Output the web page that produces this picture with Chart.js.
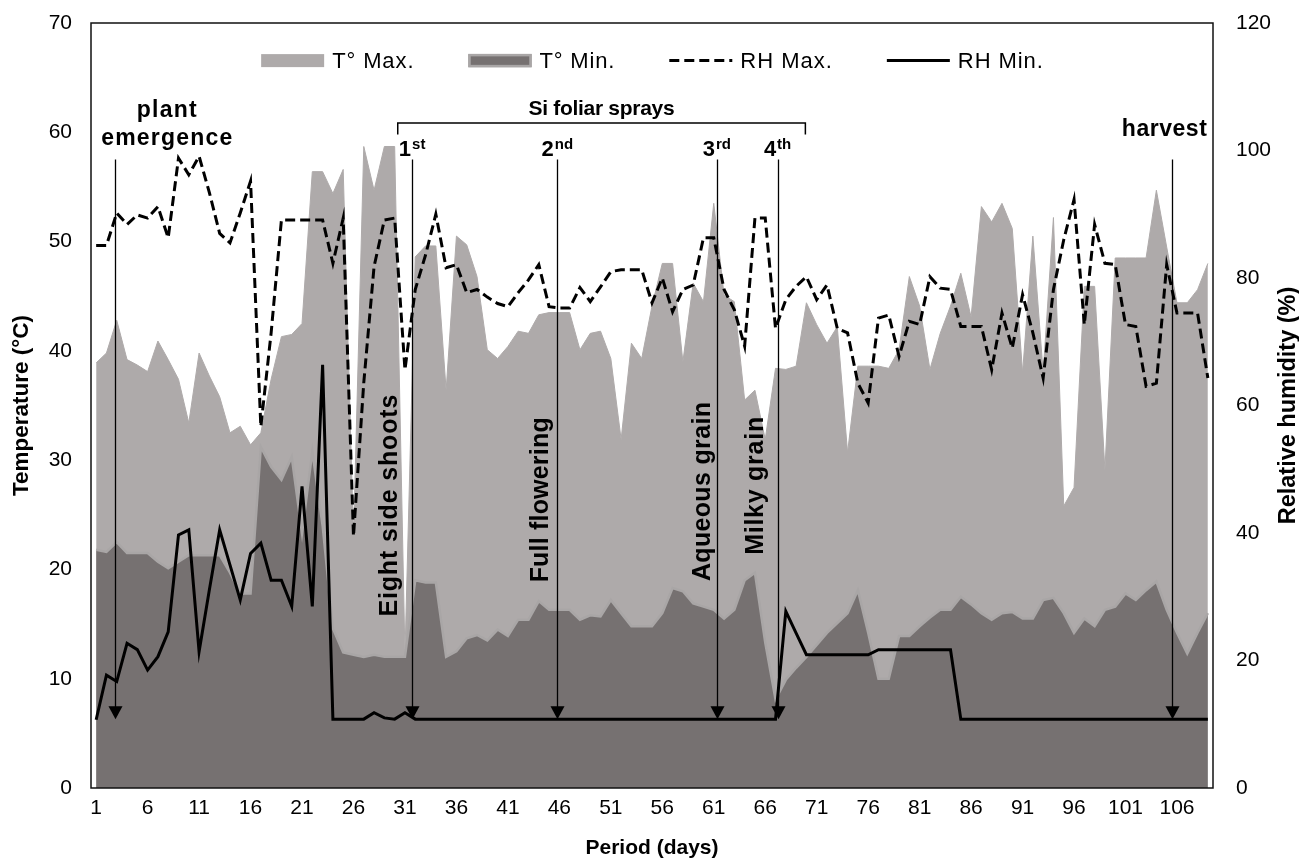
<!DOCTYPE html>
<html><head><meta charset="utf-8">
<script src="https://cdn.jsdelivr.net/npm/chart.js@4/dist/chart.umd.min.js"></script>
<style>html,body{margin:0;padding:0;background:#fff}#wrap{width:1299px;height:863px;position:relative}</style>
</head><body><div id="wrap"><canvas id="c" width="1299" height="863"></canvas></div>
<script>
// ---------------- DATA ----------------
const DAYS = ['1','2','3','4','5','6','7','8','9','10','11','12','13','14','15','16','17','18','19','20',
'21','22','23','24','25','26','27','28','29','30','31','32','33','34','35','36','37','38','39','40',
'41','42','43','44','45','46','47','48','49','50','51','52','53','54','55','56','57','58','59','60',
'61','62','63','64','65','66','67','68','69','70','71','72','73','74','75','76','77','78','79','80',
'81','82','83','84','85','86','87','88','89','90','91','92','93','94','95','96','97','98','99','100',
'101','102','103','104','105','106','107','108','109'];
const TICK_LABELS = ['1','6','11','16','21','26','31','36','41','46','51','56','61','66','71','76','81','86','91','96','101','106'];

const T_MAX = [38.9,39.8,42.8,39.2,38.7,38.1,40.9,39.2,37.4,33.4,
39.8,37.7,35.8,32.5,33.1,31.4,32.5,37.4,41.3,41.5,
42.5,56.4,56.4,54.4,56.6,23.0,58.7,54.7,58.7,58.7,
12.2,48.6,49.6,49.6,36.4,50.5,49.7,46.8,40.1,39.3,
40.4,41.8,41.6,43.3,43.5,43.5,43.5,40.1,41.6,41.8,
39.3,31.9,40.7,39.3,44.1,48.0,48.0,39.0,46.2,44.5,
53.5,45.1,44.5,35.5,36.4,31.9,38.4,38.3,38.6,44.4,
42.4,40.7,42.2,30.7,38.6,38.6,38.6,38.4,40.1,46.8,
44.1,38.3,41.6,44.1,47.1,43.1,53.2,51.8,53.5,51.2,
38.0,50.5,38.0,52.2,25.8,27.5,45.9,45.9,29.1,48.5,
48.5,48.5,48.5,54.7,49.5,44.4,44.4,45.6,48.0];

const T_MIN = [21.8,21.6,22.5,21.5,21.5,21.5,20.7,20.1,20.7,21.3,
21.3,21.3,21.3,19.7,17.8,17.8,31.2,29.4,28.2,30.3,
23.3,30.8,24.0,14.6,12.4,12.2,12.0,12.2,12.0,12.0,
12.0,19.0,18.8,18.8,12.0,12.5,13.7,14.0,13.5,14.5,
13.9,15.4,15.4,17.1,16.3,16.3,16.3,15.4,15.8,15.7,
17.2,16.0,14.8,14.8,14.8,16.0,18.3,18.0,16.9,16.6,
16.3,15.5,16.3,19.0,19.7,13.3,8.1,9.9,11.0,12.0,
13.1,14.2,15.1,16.0,18.1,14.2,10.0,10.0,13.9,13.9,
14.8,15.6,16.3,16.3,17.5,16.8,16.0,15.4,16.0,16.1,
15.5,15.5,17.2,17.4,16.0,14.2,15.5,14.8,16.3,16.6,
17.8,17.2,18.1,18.9,16.3,14.2,12.3,14.2,16.0];

const RH_MAX = [85.1,85.1,90.2,88.4,89.9,89.4,91.2,86.3,98.8,96.2,
99.1,93.4,87.0,85.5,90.2,95.2,56.7,71.4,89.1,89.1,
89.1,89.1,89.1,82.3,89.4,39.5,63.6,81.8,89.1,89.4,
65.6,78.2,83.6,90.0,81.6,82.1,77.7,78.2,77.0,76.0,
75.5,77.7,79.7,82.1,75.5,75.3,75.3,78.5,76.3,78.6,
81.0,81.3,81.3,81.3,76.1,80.0,74.7,78.2,78.9,86.3,
86.3,78.2,75.0,69.3,89.4,89.4,72.1,76.6,78.7,80.2,
76.6,78.9,72.1,71.4,63.5,60.4,73.7,74.2,67.7,73.2,
72.7,80.2,78.4,78.2,72.4,72.4,72.4,65.6,74.5,69.0,
77.4,71.4,64.3,78.2,86.0,92.3,72.7,88.4,82.3,82.1,
72.7,72.4,63.0,63.5,82.1,74.5,74.5,74.5,64.3];

const RH_MIN = [10.7,17.7,16.7,22.7,21.7,18.5,20.6,24.5,39.7,40.5,
21.4,31.1,40.5,35.0,29.5,36.8,38.4,32.6,32.6,28.5,
47.3,28.5,66.4,10.8,10.8,10.8,10.8,11.8,11.0,10.8,
11.8,10.8,10.8,10.8,10.8,10.8,10.8,10.8,10.8,10.8,
10.8,10.8,10.8,10.8,10.8,10.8,10.8,10.8,10.8,10.8,
10.8,10.8,10.8,10.8,10.8,10.8,10.8,10.8,10.8,10.8,
10.8,10.8,10.8,10.8,10.8,10.8,10.8,27.7,24.3,20.9,
20.9,20.9,20.9,20.9,20.9,20.9,21.7,21.7,21.7,21.7,
21.7,21.7,21.7,21.7,10.8,10.8,10.8,10.8,10.8,10.8,
10.8,10.8,10.8,10.8,10.8,10.8,10.8,10.8,10.8,10.8,
10.8,10.8,10.8,10.8,10.8,10.8,10.8,10.8,10.8];

const SERIES_NAMES = ['T° Max.','T° Min.','RH Max.','RH Min.'];
const STAGE_NAMES = ['Eight side shoots','Full flowering','Aqueous grain','Milky grain'];
const SPRAY_DAYS = [31.7, 45.8, 61.3, 67.2];
const SPRAY_ORDINALS = [['1','st'],['2','nd'],['3','rd'],['4','th']];
const EMERGENCE_DAY = 2.8;
const HARVEST_DAY = 105.5;
const SPRAY_SPAN = [30.3, 69.9];

// ---------------- DRAWING ----------------
const FAM = "'Liberation Sans', Arial, Helvetica, sans-serif";
const C_TMAX = '#AEAAAA', C_TMIN = '#767171', C_TMIN_EDGE = '#A9A6A6';

function fitText(ctx, text, x, y, font, target, align) {
  ctx.font = font;
  ctx.letterSpacing = '0px';
  const w = ctx.measureText(text).width;
  const ls = target ? (target - w) / Math.max(text.length - 1, 1) : 0;
  ctx.letterSpacing = ls + 'px';
  const tw = w + ls * (text.length - 1);
  let sx = x;
  if (align === 'center') sx = x - tw / 2;
  else if (align === 'right') sx = x - tw;
  ctx.textAlign = 'left';
  ctx.fillText(text, sx, y);
  ctx.letterSpacing = '0px';
  return tw;
}

const annot = {
  id: 'annot',
  afterDatasetsDraw(chart) {
    const {ctx, chartArea: a, scales: {x, yR}} = chart;
    const step = x.getPixelForValue(1) - x.getPixelForValue(0);
    const dx = d => x.getPixelForValue(0) + (d - 1) * step;
    const ry = v => yR.getPixelForValue(v);
    ctx.save();
    ctx.fillStyle = '#000';
    ctx.strokeStyle = '#000';
    ctx.textBaseline = 'alphabetic';

    // arrows
    const yTop = ry(98.6), yTip = ry(10.8);
    [EMERGENCE_DAY, ...SPRAY_DAYS, HARVEST_DAY].forEach(d => {
      const px = Math.round(dx(d)) + 0.5;
      ctx.lineWidth = 1.3;
      ctx.beginPath(); ctx.moveTo(px, yTop); ctx.lineTo(px, yTip - 10); ctx.stroke();
      ctx.beginPath(); ctx.moveTo(px - 7, yTip - 13); ctx.lineTo(px + 7, yTip - 13); ctx.lineTo(px, yTip); ctx.closePath(); ctx.fill();
    });

    // bracket
    const bx0 = dx(SPRAY_SPAN[0]), bx1 = dx(SPRAY_SPAN[1]);
    const by = ry(104.3), byEnd = ry(102.5);
    ctx.lineWidth = 1.5;
    ctx.beginPath(); ctx.moveTo(bx0, byEnd); ctx.lineTo(bx0, by); ctx.lineTo(bx1, by); ctx.lineTo(bx1, byEnd); ctx.stroke();
    fitText(ctx, 'Si foliar sprays', (bx0 + bx1) / 2, ry(105.6), 'bold 21px ' + FAM, 146, 'center');

    // plant emergence / harvest
    const ex = dx(EMERGENCE_DAY) + 52;
    fitText(ctx, 'plant', ex, ry(105.3), 'bold 23px ' + FAM, 60, 'center');
    fitText(ctx, 'emergence', ex, ry(100.9), 'bold 23px ' + FAM, 131, 'center');
    fitText(ctx, 'harvest', dx(HARVEST_DAY) + 35, ry(102.2), 'bold 23px ' + FAM, 85, 'right');

    // ordinals
    SPRAY_DAYS.forEach((d, i) => {
      const px = dx(d);
      const [n, s] = SPRAY_ORDINALS[i];
      ctx.font = 'bold 22px ' + FAM; const w1 = ctx.measureText(n).width;
      ctx.font = 'bold 15px ' + FAM; const w2 = ctx.measureText(s).width;
      const sx = px - (w1 + w2 + 1) / 2;
      ctx.textAlign = 'left';
      ctx.font = 'bold 22px ' + FAM; ctx.fillText(n, sx, ry(99.1));
      ctx.font = 'bold 15px ' + FAM; ctx.fillText(s, sx + w1 + 1, ry(100.3));
    });

    // rotated stage labels
    const offs = [15, 9, 7, 15], cys = [44.3, 45.2, 46.5, 47.4], lens = [222, 165, 179, 138];
    STAGE_NAMES.forEach((t, i) => {
      ctx.save();
      ctx.translate(dx(SPRAY_DAYS[i]) - offs[i], ry(cys[i]));
      ctx.rotate(-Math.PI / 2);
      fitText(ctx, t, 0, 0, 'bold 25px ' + FAM, lens[i], 'center');
      ctx.restore();
    });

    // legend
    const ds = chart.data.datasets;
    ctx.font = '22px ' + FAM;
    const symW = 63, gapT = 8, gapI = 55;
    const widths = ds.map(d => ctx.measureText(d.label).width * 1.07);
    const total = widths.reduce((s, w) => s + symW + gapT + w, 0) + gapI * (ds.length - 1);
    let lx = (a.left + a.right) / 2 - total / 2;
    const ly = ry(114.1);
    ds.forEach((d, i) => {
      ctx.save();
      if (d.fill) {
        ctx.fillStyle = d.backgroundColor;
        ctx.fillRect(lx, ly - 6.5, symW, 13);
        if (d.borderWidth > 1) { ctx.strokeStyle = d.borderColor; ctx.lineWidth = 2.5; ctx.strokeRect(lx + 1, ly - 5.5, symW - 2, 11); }
      } else {
        ctx.strokeStyle = d.borderColor; ctx.lineWidth = 3;
        ctx.setLineDash(d.borderDash || []);
        ctx.beginPath(); ctx.moveTo(lx, ly); ctx.lineTo(lx + symW, ly); ctx.stroke();
      }
      ctx.restore();
      ctx.fillStyle = '#000';
      ctx.textBaseline = 'middle';
      fitText(ctx, d.label, lx + symW + gapT, ly + 1, '22px ' + FAM, widths[i], 'left');
      ctx.textBaseline = 'alphabetic';
      lx += symW + gapT + widths[i] + gapI;
    });

    ctx.restore();
  },
  afterDraw(chart) {
    const {ctx, chartArea: a} = chart;
    ctx.save();
    ctx.strokeStyle = '#111'; ctx.lineWidth = 1.5;
    ctx.strokeRect(a.left, a.top, a.right - a.left, a.bottom - a.top);
    // right axis title
    ctx.fillStyle = '#000';
    ctx.translate(1289, (a.top + a.bottom) / 2);
    ctx.rotate(-Math.PI / 2);
    ctx.textBaseline = 'middle';
    fitText(ctx, 'Relative humidity (%)', 0, 0, 'bold 23.5px ' + FAM, 0, 'center');
    ctx.restore();
  }
};

new Chart(document.getElementById('c'), {
  type: 'line',
  data: {
    labels: DAYS,
    datasets: [
      {label: SERIES_NAMES[0], data: T_MAX, yAxisID: 'y', fill: 'origin', backgroundColor: C_TMAX, borderColor: C_TMAX, borderWidth: 1, pointRadius: 0, tension: 0, order: 4},
      {label: SERIES_NAMES[1], data: T_MIN, yAxisID: 'y', fill: 'origin', backgroundColor: C_TMIN, borderColor: C_TMIN_EDGE, borderWidth: 2.5, pointRadius: 0, tension: 0, order: 3},
      {label: SERIES_NAMES[2], data: RH_MAX, yAxisID: 'yR', fill: false, borderColor: '#000', borderWidth: 3, borderDash: [10, 5], pointRadius: 0, tension: 0, order: 2},
      {label: SERIES_NAMES[3], data: RH_MIN, yAxisID: 'yR', fill: false, borderColor: '#000', borderWidth: 3, pointRadius: 0, tension: 0, order: 1}
    ]
  },
  options: {
    responsive: false,
    animation: false,
    layout: {padding: {top: 23, left: 0, right: 0, bottom: 0}},
    plugins: {legend: {display: false}, tooltip: {enabled: false}},
    scales: {
      x: {
        type: 'category', offset: true,
        grid: {display: false, drawTicks: false},
        border: {display: false},
        ticks: {autoSkip: false, maxRotation: 0, padding: 8, color: '#000', font: {size: 21, family: FAM},
          callback: function(v) { const l = this.getLabelForValue(v); return TICK_LABELS.includes(l) ? l : ''; }},
        title: {display: true, text: 'Period (days)', color: '#000', font: {size: 21, weight: 'bold', family: FAM}, padding: {top: 0, bottom: 2}},
        afterFit: s => { s.height = 75; s.paddingLeft = 0; s.paddingRight = 0; }
      },
      y: {
        position: 'left', min: 0, max: 70,
        grid: {display: false, drawTicks: false},
        border: {display: false},
        ticks: {stepSize: 10, padding: 19, color: '#000', font: {size: 21, family: FAM}},
        title: {display: true, text: 'Temperature (°C)', color: '#000', font: {size: 22.5, weight: 'bold', family: FAM}, padding: {top: 8, bottom: 0}},
        afterFit: s => { s.width = 91; s.paddingTop = 0; s.paddingBottom = 0; }
      },
      yR: {
        position: 'right', min: 0, max: 120,
        grid: {display: false, drawTicks: false},
        border: {display: false},
        ticks: {stepSize: 20, padding: 23, color: '#000', font: {size: 21, family: FAM}},
        afterFit: s => { s.width = 86; s.paddingTop = 0; s.paddingBottom = 0; }
      }
    }
  },
  plugins: [annot]
});
</script>
</body></html>
